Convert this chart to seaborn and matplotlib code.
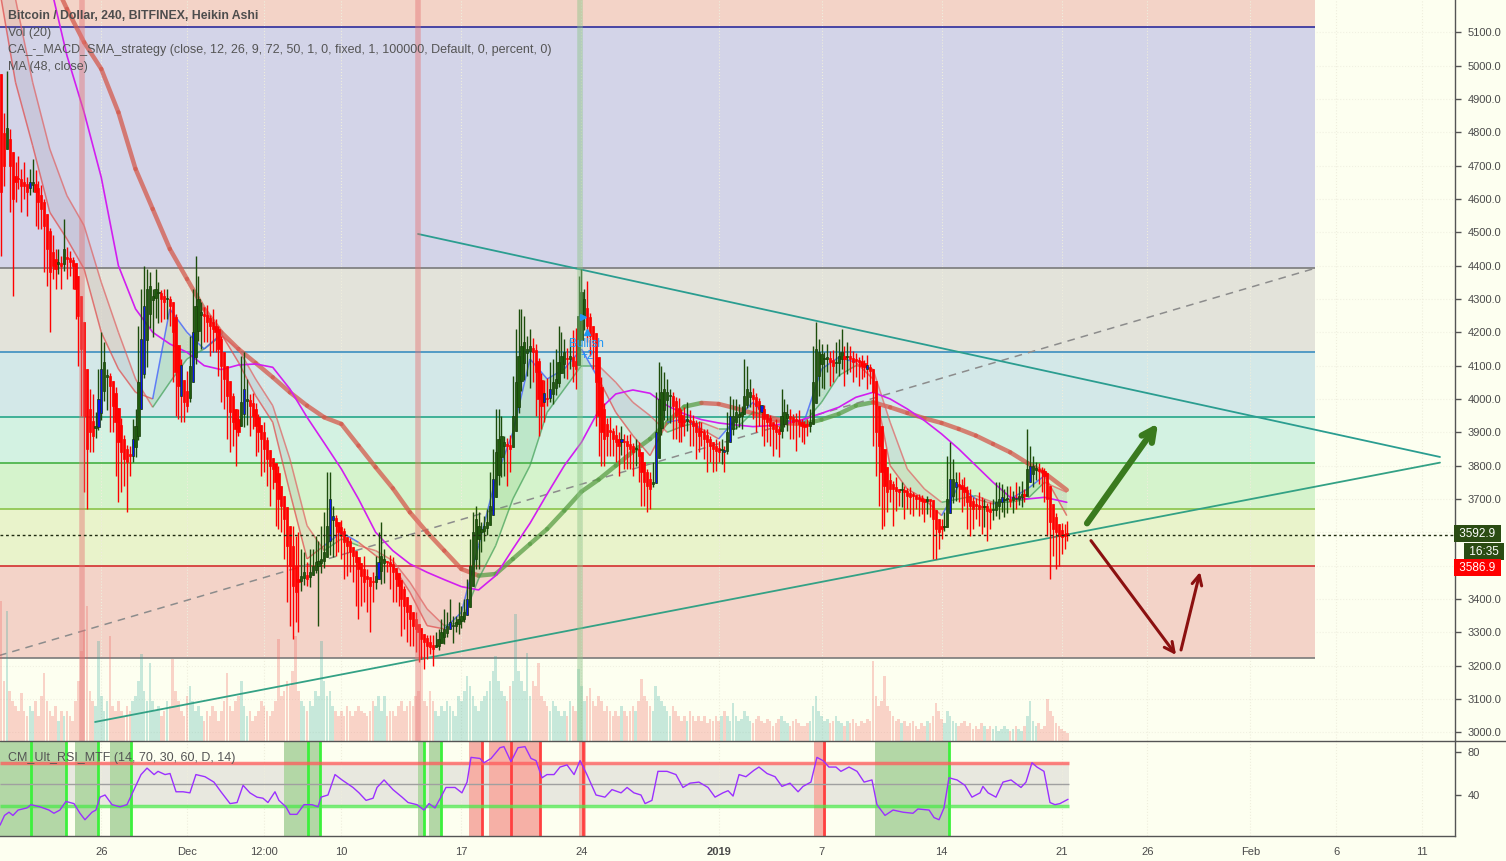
import numpy as np
import pandas as pd
import matplotlib
matplotlib.use("Agg")
import matplotlib.pyplot as plt
import matplotlib.transforms as mtransforms
from matplotlib.collections import LineCollection
from matplotlib.lines import Line2D
import seaborn as sns

# ---------------------------------------------------------------------------
# data
# x unit = days after 1 Dec 2018 00:00, bars every 4h starting 20 Nov 00:00
# ---------------------------------------------------------------------------
bar_start_day = -11
bars_per_day = 6
first_ha_open = 5050

ha_close = [
    4900, 4620, 4700, 4814, 4700, 4600,   # Nov 20
    4650, 4660, 4640, 4640, 4620, 4650,
    4650, 4620, 4590, 4570, 4520, 4450,
    4380, 4400, 4390, 4410, 4400, 4450,
    4420, 4410, 4400, 4330, 4250, 4150,
    3950, 3850, 3900, 3890, 3920, 4000,   # Nov 25
    4090, 4110, 4070, 4040, 3980, 3930,
    3870, 3840, 3820, 3810, 3830, 3880,
    3920, 4050, 4180, 4280, 4330, 4340,
    4310, 4330, 4320, 4300, 4290, 4300,
    4280, 4200, 4080, 4040, 4010, 3990,   # Nov 30
    3980, 4100, 4200, 4280, 4300, 4260,   # Dec 1
    4250, 4230, 4220, 4210, 4200, 4150,
    4100, 4060, 4010, 3960, 3930, 3910,
    3900, 3990, 4030, 4000, 3980, 3950,
    3920, 3900, 3880, 3850, 3820, 3800,
    3790, 3750, 3700, 3680, 3640, 3560,
    3500, 3440, 3420, 3450, 3470, 3480,
    3460, 3480, 3500, 3510, 3515, 3520,
    3540, 3620, 3700, 3650, 3620, 3600,
    3590, 3570, 3560, 3540, 3530, 3510,   # Dec 10
    3490, 3470, 3450, 3460, 3440, 3450,
    3470, 3510, 3530, 3520, 3510, 3500,
    3480, 3460, 3440, 3400, 3380, 3360,
    3340, 3320, 3310, 3300, 3280, 3270,
    3260, 3255, 3250, 3260, 3280, 3300,
    3310, 3320, 3330, 3320, 3330, 3340,
    3350, 3360, 3400, 3500, 3600, 3640,
    3620, 3610, 3620, 3630, 3680, 3760,
    3840, 3880, 3890, 3870, 3860, 3850,
    3950, 4050, 4130, 4160, 4170, 4150,   # Dec 20
    4160, 4140, 4080, 4000, 3980, 3990,
    4000, 4030, 4050, 4060, 4110, 4130,
    4140, 4120, 4130, 4100, 4090, 4250,
    4320, 4300, 4220, 4190, 4180, 4050,
    3950, 3900, 3880, 3890, 3900, 3880,
    3870, 3860, 3880, 3870, 3860, 3850,
    3840, 3850, 3830, 3780, 3750, 3740,
    3730, 3750, 3900, 4000, 4020, 4030,
    4020, 4010, 3980, 3950, 3930, 3920,
    3930, 3940, 3930, 3920, 3900, 3890,   # Dec 30
    3900, 3880, 3870, 3860, 3850, 3845,
    3840, 3850, 3840, 3900, 3950, 3950,   # Jan 1
    3960, 3955, 3960, 4010, 4030, 4020,
    4000, 3980, 3970, 3960, 3940, 3930,
    3920, 3910, 3900, 3895, 3950, 3960,
    3955, 3940, 3930, 3935, 3925, 3920,
    3915, 3920, 3930, 4050, 4150, 4140,
    4135, 4120, 4125, 4110, 4100, 4110,
    4130, 4140, 4120, 4130, 4120, 4110,
    4115, 4110, 4100, 4095, 4090, 4085,
    4020, 3900, 3860, 3780, 3740, 3720,   # Jan 10
    3730, 3730, 3725, 3720, 3730, 3720,
    3710, 3705, 3710, 3700, 3700, 3695,
    3690, 3700, 3695, 3640, 3610, 3600,
    3610, 3620, 3700, 3760, 3760, 3750,
    3740, 3730, 3720, 3690, 3680, 3670,
    3680, 3670, 3675, 3680, 3665, 3660,
    3670, 3690, 3700, 3705, 3700, 3700,
    3695, 3705, 3700, 3710, 3715, 3710,
    3790, 3800, 3800, 3790, 3785, 3780,
    3770, 3700, 3630, 3610, 3600, 3590,   # Jan 20
    3585, 3590, 3592.9,
]

wick_up = [
    0, 0, 60, 170, 30, 0,
    40, 70, 30, 60, 20, 40,
    70, 40, 20, 30, 10, 0,
    10, 50, 30, 40, 20, 90,
    30, 20, 10, 0, 0, 0,
    0, 0, 60, 80, 40, 90,
    110, 60, 20, 10, 0, 20,
    0, 20, 10, 10, 30, 60,
    50, 170, 150, 120, 60, 40,
    20, 60, 30, 10, 20, 30,
    10, 0, 10, 0, 20, 0,
    60, 90, 130, 150, 70, 30,
    20, 30, 10, 40, 20, 10,
    10, 0, 0, 0, 10, 0,
    30, 140, 110, 60, 20, 30,
    20, 10, 0, 30, 10, 0,
    0, 0, 20, 0, 0, 0,
    0, 60, 90, 140, 80, 60,
    40, 70, 50, 80, 60, 100,
    120, 160, 80, 30, 10, 0,
    20, 10, 0, 10, 0, 0,
    0, 0, 40, 20, 0, 30,
    60, 90, 100, 30, 0, 20,
    20, 0, 0, 0, 10, 0,
    0, 0, 20, 0, 0, 0,
    10, 20, 30, 40, 30, 40,
    60, 40, 70, 30, 20, 50,
    30, 40, 60, 80, 60, 40,
    40, 20, 30, 40, 100, 90,
    130, 90, 60, 20, 20, 30,
    120, 160, 140, 110, 80, 40,
    50, 30, 20, 10, 20, 40,
    60, 80, 70, 90, 110, 70,
    40, 30, 50, 80, 100, 120,
    70, 30, 80, 10, 0, 0,
    0, 30, 20, 20, 40, 10,
    30, 20, 40, 20, 20, 30,
    10, 30, 20, 0, 0, 10,
    20, 60, 120, 110, 80, 50,
    40, 20, 10, 10, 30, 20,
    40, 50, 30, 20, 10, 20,
    30, 10, 20, 10, 0, 20,
    20, 30, 10, 60, 60, 50,
    40, 30, 20, 110, 70, 40,
    20, 10, 10, 0, 10, 0,
    10, 0, 20, 10, 80, 40,
    30, 20, 10, 20, 30, 10,
    10, 20, 40, 110, 80, 40,
    30, 20, 40, 20, 30, 60,
    50, 70, 30, 40, 30, 20,
    20, 10, 20, 10, 30, 10,
    0, 0, 0, 0, 0, 0,
    20, 10, 30, 0, 20, 10,
    10, 20, 10, 0, 10, 10,
    0, 10, 0, 0, 0, 0,
    20, 40, 130, 110, 60, 30,
    40, 20, 30, 10, 20, 10,
    20, 40, 30, 20, 10, 20,
    30, 60, 50, 40, 30, 40,
    40, 20, 50, 30, 40, 20,
    120, 60, 30, 20, 20, 10,
    10, 0, 0, 0, 10, 0,
    20, 30, 40,
]

wick_dn = [
    100, 190, 60, 0, 140, 290,
    60, 30, 80, 40, 70, 20,
    20, 100, 80, 60, 140, 110,
    180, 40, 60, 30, 70, 20,
    60, 40, 70, 90, 150, 200,
    230, 180, 60, 50, 30, 10,
    20, 30, 100, 140, 80, 160,
    180, 120, 80, 150, 60, 20,
    30, 10, 0, 10, 80, 40,
    110, 60, 90, 70, 50, 60,
    60, 150, 130, 100, 80, 60,
    20, 10, 0, 20, 30, 100,
    80, 60, 90, 70, 60, 80,
    110, 90, 130, 120, 70, 110,
    10, 0, 40, 70, 90, 40,
    90, 60, 110, 70, 80, 120,
    60, 130, 90, 80, 120, 170,
    180, 160, 90, 150, 30, 20,
    20, 30, 0, 10, 180, 30,
    20, 0, 40, 110, 90, 60,
    70, 110, 90, 60, 80, 130,
    150, 90, 60, 100, 140, 60,
    20, 0, 40, 60, 30, 70,
    90, 70, 60, 110, 70, 90,
    80, 60, 70, 90, 60, 80,
    40, 20, 50, 0, 10, 0,
    20, 10, 0, 50, 20, 30,
    20, 10, 0, 0, 0, 30,
    90, 60, 30, 20, 0, 0,
    0, 30, 60, 90, 120, 70,
    0, 0, 20, 30, 50, 70,
    110, 90, 130, 110, 70, 60,
    20, 10, 30, 20, 10, 0,
    40, 60, 30, 50, 60, 0,
    0, 40, 50, 60, 90, 130,
    120, 100, 80, 60, 70, 50,
    60, 90, 40, 80, 70, 60,
    70, 50, 80, 100, 70, 80,
    60, 10, 0, 0, 20, 30,
    60, 80, 100, 70, 60, 50,
    40, 30, 70, 60, 80, 50,
    40, 60, 90, 50, 70, 60,
    30, 40, 60, 10, 0, 20,
    20, 30, 40, 0, 10, 30,
    60, 80, 50, 70, 80, 60,
    60, 80, 50, 70, 20, 10,
    40, 60, 50, 90, 40, 50,
    50, 30, 20, 0, 0, 60,
    70, 90, 40, 70, 50, 30,
    40, 30, 80, 50, 40, 60,
    50, 70, 40, 30, 60, 40,
    160, 130, 180, 170, 120, 60,
    40, 110, 60, 40, 50, 80,
    40, 50, 60, 30, 50, 40,
    60, 40, 50, 120, 90, 50,
    30, 10, 0, 0, 20, 40,
    50, 70, 40, 80, 90, 60,
    40, 50, 80, 60, 90, 50,
    30, 20, 40, 30, 50, 40,
    20, 40, 30, 20, 30, 20,
    0, 0, 40, 30, 40, 60,
    80, 110, 170, 80, 110, 90,
    50, 40, 20,
]

# volume, in pixels of the volume overlay
volume = [
    90, 140, 60, 130, 50, 40,
    35, 30, 48, 30, 25, 35,
    30, 40, 25, 45, 68, 40,
    30, 25, 35, 20, 30, 25,
    30, 25, 20, 40, 60, 90,
    110, 135, 50, 40, 35, 100,
    45, 30, 40, 105, 35, 30,
    40, 30, 25, 35, 30, 40,
    45, 60, 87, 50, 40, 78,
    40, 30, 35, 25, 30, 40,
    35, 82, 50, 40, 30, 25,
    45, 55, 40, 30, 35, 25,
    20, 30, 25, 35, 30, 20,
    30, 40, 68, 35, 30, 40,
    45, 60, 35, 25, 30, 20,
    25, 30, 40, 35, 30, 25,
    30, 40, 102, 45, 50, 60,
    55, 70, 105, 50, 40, 35,
    30, 40, 35, 50, 45, 100,
    60, 45, 50, 35, 30, 25,
    30, 25, 35, 30, 25, 30,
    35, 30, 28, 25, 30, 40,
    35, 45, 30, 45, 25, 30,
    30, 25, 35, 40, 30, 35,
    40, 35, 45, 50, 85, 40,
    35, 50, 40, 30, 25, 35,
    30, 40, 35, 30, 25, 45,
    40, 50, 65, 55, 45, 35,
    30, 40, 45, 50, 60, 70,
    85, 60, 50, 45, 40, 55,
    60, 127, 70, 60, 50, 88,
    45, 60, 55, 78, 45, 40,
    35, 30, 40, 35, 30, 25,
    30, 25, 40, 35, 30, 72,
    55, 40, 45, 53, 40, 35,
    45, 40, 30, 35, 30, 25,
    30, 25, 35, 30, 25, 30,
    35, 30, 40, 62, 45, 40,
    35, 30, 55, 45, 40, 35,
    30, 25, 35, 30, 25, 20,
    25, 20, 30, 25, 20, 25,
    20, 25, 18, 22, 20, 25,
    20, 25, 30, 25, 20, 38,
    25, 20, 22, 30, 25, 20,
    18, 22, 25, 20, 18, 22,
    20, 15, 18, 22, 25, 20,
    18, 15, 20, 22, 18, 15,
    15, 18, 20, 35, 45, 30,
    25, 20, 22, 18, 20, 25,
    20, 18, 15, 20, 18, 22,
    18, 15, 20, 18, 22, 20,
    80, 45, 35, 40, 65, 35,
    30, 25, 20, 22, 18, 20,
    15, 18, 20, 15, 12, 18,
    15, 20, 18, 25, 38, 30,
    22, 18, 30, 25, 20, 18,
    15, 18, 20, 15, 18, 12,
    15, 12, 18, 15, 12, 15,
    12, 15, 10, 12, 15, 12,
    10, 12, 15, 12, 10, 15,
    25, 40, 20, 15, 18, 12,
    15, 42, 30, 25, 18, 15,
    12, 10, 8,
]

# bars painted blue by the strategy
blue_bars = [11, 35, 36, 47, 50, 51, 64, 68, 86, 116, 117, 133, 158, 164, 173,
             191, 193, 218, 230, 254, 256, 267, 304, 333, 335, 351, 356, 361]

# moving averages, sampled once a day
ma_days = list(range(-11, 51)) + [51.3]
ma_slow = [5700, 5550, 5400, 5280, 5170, 5070, 4990, 4860, 4690, 4570, 4450,
           4360, 4270, 4200, 4150, 4108, 4065, 4020, 3980, 3945, 3925, 3860,
           3795, 3732, 3660, 3600, 3545, 3490, 3470, 3475, 3520, 3565, 3610,
           3665, 3722, 3758, 3800, 3842, 3880, 3930, 3977, 3988, 3985, 3972,
           3957, 3942, 3927, 3925, 3938, 3955, 3980, 3990, 3975, 3958, 3942,
           3928, 3910, 3890, 3865, 3840, 3808, 3778, 3727]
ema_fast = [5250, 4950, 4760, 4560, 4480, 4390, 4200, 4090, 4020, 4000, 4270,
            4200, 4150, 4195, 4110, 4010, 3930, 3720, 3520, 3560, 3600, 3570,
            3530, 3500, 3420, 3320, 3310, 3360, 3560, 3760, 3900, 4120, 4060,
            4090, 4150, 4060, 3960, 3890, 3830, 3930, 3940, 3910, 3880, 3940,
            3990, 3935, 3935, 3935, 4090, 4125, 4110, 4060, 3800, 3730, 3700,
            3650, 3740, 3700, 3685, 3700, 3730, 3770, 3650]
ema_slow = [5450, 5200, 4950, 4750, 4610, 4520, 4350, 4200, 4060, 3975, 4050,
            4120, 4150, 4190, 4150, 4060, 3980, 3820, 3620, 3545, 3580, 3560,
            3545, 3515, 3450, 3370, 3320, 3330, 3460, 3560, 3700, 3800, 3960,
            4030, 4100, 4100, 4050, 3990, 3950, 3900, 3920, 3930, 3910, 3910,
            3960, 3950, 3935, 3930, 3990, 4070, 4100, 4090, 3930, 3790, 3730,
            3690, 3700, 3710, 3690, 3690, 3700, 3750, 3720]
ma48 = [5800, 5600, 5420, 5250, 5030, 4860, 4665, 4400, 4270, 4200, 4165,
        4140, 4100, 4088, 4102, 4105, 4095, 4030, 3945, 3868, 3790, 3700,
        3600, 3545, 3505, 3480, 3458, 3437, 3427, 3470, 3550, 3627, 3715,
        3800, 3870, 3965, 4015, 4027, 4017, 3980, 3955, 3938, 3928, 3922,
        3917, 3920, 3927, 3940, 3957, 3975, 4005, 4020, 4000, 3970, 3935,
        3895, 3850, 3800, 3750, 3705, 3700, 3705, 3690]
ma_slow_long_spans = [(17.5, 30.1), (35.8, 39.8)]

# CM_Ult_RSI_MTF
rsi_days = [-10.90, -10.64, -10.38, -10.15, -9.85, -9.33, -9.10, -8.57, -8.05, -7.76,
            -7.41, -7.06, -6.59, -6.24, -5.95, -5.54, -5.31, -5.07, -4.78, -4.37,
            -3.91, -3.50, -3.09, -2.68, -2.33, -1.92, -1.69, -1.28, -0.99, -0.64,
            -0.23, 0.17, 0.52, 1.05, 1.57, 1.98, 2.51, 2.92, 3.27, 3.67,
            4.08, 4.43, 4.72, 5.13, 5.36, 5.77, 6.01, 6.41, 6.82, 7.29,
            7.64, 7.81, 8.22, 8.63, 9.04, 9.68, 10.03, 10.44, 10.85, 11.08,
            11.49, 12.01, 12.54, 12.89, 13.41, 13.82, 14.11, 14.46, 14.87, 15.10,
            15.63, 16.03, 16.33, 16.56, 17.08, 17.32, 17.73, 18.25, 18.48, 18.89,
            19.30, 19.71, 20.06, 20.35, 20.70, 20.99, 21.40, 21.75, 22.16, 22.57,
            22.92, 23.32, 23.85, 24.37, 24.78, 25.31, 25.66, 26.06, 26.47, 26.71,
            27.11, 27.46, 27.99, 28.51, 28.92, 29.33, 29.85, 30.38, 30.79, 31.25,
            31.55, 31.84, 32.19, 32.59, 33.06, 33.35, 33.82, 34.29, 34.69, 35.16,
            35.63, 35.92, 36.38, 36.73, 37.08, 37.43, 37.84, 38.13, 38.60, 39.07,
            39.48, 39.94, 40.23, 40.70, 41.17, 41.75, 42.33, 42.62, 43.27, 43.56,
            43.85, 44.14, 44.43, 44.90, 45.36, 45.77, 46.24, 46.41, 46.71, 47.17,
            47.58, 48.05, 48.63, 48.92, 49.27, 49.56, 49.97, 50.32, 50.61, 50.90,
            51.37]
rsi_vals = [12, 21, 24, 21, 26, 28, 31, 29, 26, 23,
            26, 34, 32, 23, 17, 24, 26, 38, 40, 31,
            29, 31, 45, 59, 65, 59, 62, 59, 60, 43,
            43, 42, 59, 57, 52, 43, 32, 33, 49, 42,
            38, 37, 33, 43, 35, 29, 22, 22, 31, 31,
            29, 38, 40, 59, 54, 47, 42, 35, 37, 47,
            54, 45, 38, 33, 31, 26, 32, 28, 40, 47,
            47, 42, 52, 75, 74, 70, 74, 84, 85, 71,
            84, 85, 74, 72, 56, 59, 59, 66, 68, 59,
            72, 59, 40, 38, 45, 42, 47, 42, 40, 32,
            35, 62, 62, 59, 47, 51, 52, 47, 38, 42,
            44, 39, 59, 57, 63, 66, 60, 57, 48, 51,
            43, 48, 52, 75, 72, 66, 66, 62, 66, 62,
            52, 54, 31, 21, 26, 24, 23, 27, 26, 19,
            17, 28, 56, 54, 49, 38, 42, 48, 42, 38,
            52, 54, 47, 52, 70, 66, 62, 33, 31, 32,
            36]
rsi_os_spans = [(-11.2, -7.06), (-6.53, -5.19), (-4.49, -3.27), (5.66, 7.76),
                (13.47, 13.82), (14.11, 14.81), (40.12, 44.43)]
rsi_ob_spans = [(16.44, 17.26), (17.61, 20.58), (22.86, 23.27), (36.56, 37.26)]
rsi_os_marks = [-9.1, -7.06, -5.19, -3.27, 7.06, 7.76, 13.82, 14.81, 44.43]
rsi_ob_marks = [17.2, 18.9, 20.58, 23.09, 37.14]

# strategy signal bars
signal_days = [-6.12, 13.47, 22.92]
signal_colors = ['#e57373', '#e57373', '#8cc488']

# fibonacci retracement
fib_p1 = (-11.5, 3222)
fib_p2 = (65.77, 4392)
fib_levels = [0, 0.236, 0.382, 0.5, 0.618, 0.786, 1, 1.618, 2.618]
fib_line_colors = ['#7a7a7a', '#d32f2f', '#8bc34a', '#43b043', '#26a68a',
                   '#3b8ec0', '#7a7a7a', '#2d2d9c', '#d32f2f']
fib_fill_colors = ['#f3d3c8', '#e9f3cb', '#d5f3cc', '#d3f2e2', '#d3e8e8',
                   '#e3e3da', '#d3d4e8', '#f3d3c7']

# hand drawn lines
resistance = [(13.47, 4495), (73.06, 3826)]
support = [(-5.36, 3031), (73.06, 3809)]
up_arrow = [(52.48, 3627), (56.62, 3927)]
down_arrow = [(52.71, 3575), (57.67, 3232)]
rebound_arrow = [(57.96, 3247), (59.07, 3481)]

last_price = 3592.9
bid_price = 3586.9
bar_countdown = "16:35"

price_ticks = list(range(3000, 5101, 100))
hidden_price_ticks = [3500, 3600]          # covered by the price tags
date_ticks = [-5, 0, 4.5, 9, 16, 23, 31, 37, 44, 51, 56, 62, 67, 72]
date_labels = ['26', 'Dec', '12:00', '10', '17', '24', '2019', '7', '14', '21',
               '26', 'Feb', '6', '11']

# ---------------------------------------------------------------------------
sns.set_style("white")
plt.rcParams['font.family'] = ['Liberation Sans', 'DejaVu Sans']

BG = '#fdfff0'
TXT = '#4a4a4a'
W, H = 1506, 861
fig = plt.figure(figsize=(W / 100, H / 100), dpi=100, facecolor=BG)
ax = fig.add_axes([0, 1 - 741 / H, 1455 / W, 741 / H], facecolor=BG)
ax_rsi = fig.add_axes([0, 1 - 836 / H, 1455 / W, 95 / H], facecolor=BG)

xlim = (-187 / 17.15, (1455 - 187) / 17.15)
ax.set_xlim(*xlim)
ax.set_ylim(2973.9, 5196.9)
ax_rsi.set_xlim(*xlim)
ax_rsi.set_ylim(1.86, 90.23)

# faint grid
for d in date_ticks:
    ax.axvline(d, color='#efeedd', lw=0.8, ls=':', zorder=0.5)
    ax_rsi.axvline(d, color='#efeedd', lw=0.8, ls=':', zorder=0.5)
for p in price_ticks:
    ax.axhline(p, color='#f1f1e2', lw=0.8, ls=':', zorder=0.1)

# fibonacci bands
f_lo, f_hi = fib_p1[1], fib_p2[1]
fib_prices = [f_lo + (f_hi - f_lo) * f for f in fib_levels]
for k in range(len(fib_prices) - 1):
    ax.fill_between([fib_p1[0], fib_p2[0]], fib_prices[k], fib_prices[k + 1],
                    color=fib_fill_colors[k], lw=0, zorder=0.2)
for p, col in zip(fib_prices, fib_line_colors):
    ax.hlines(p, fib_p1[0], fib_p2[0], color=col, lw=1.2, zorder=0.6)
ax.plot([fib_p1[0], fib_p2[0]], [f_lo, f_hi], ls=(0, (5, 4)), color='#8c8c8c',
        lw=1.1, zorder=1)

# heikin ashi candles
n = len(ha_close)
t = bar_start_day + np.arange(n) / bars_per_day
c = np.array(ha_close, float)
o = np.empty(n)
o[0] = first_ha_open
for i in range(1, n):
    o[i] = (o[i - 1] + c[i - 1]) / 2
up = c >= o
top = np.maximum(o, c)
bot = np.minimum(o, c)
hi = top + np.array(wick_up, float)
lo = bot - np.array(wick_dn, float)

# volume overlay (own scale at the bottom of the price pane)
vol_tr = mtransforms.blended_transform_factory(
    ax.transData, mtransforms.Affine2D().scale(1, 1 / 741) + ax.transAxes)
vol_cols = np.where(up, '#26a69a', '#ef5350')
ax.bar(t, volume, width=0.15, bottom=0, color=vol_cols, alpha=0.25, lw=0,
       transform=vol_tr, zorder=1.5)

# moving averages
md = np.array(ma_days, float)


def segments(y):
    y = np.asarray(y, float)
    return np.stack([np.column_stack([md[:-1], y[:-1]]),
                     np.column_stack([md[1:], y[1:]])], axis=1)


mid = (md[:-1] + md[1:]) / 2
fast = np.array(ema_fast, float)
slow = np.array(ema_slow, float)
trend_up = (fast[:-1] + fast[1:]) >= (slow[:-1] + slow[1:])

ax.fill_between(md, fast, slow, where=fast >= slow, interpolate=True,
                color='#5cb85c', alpha=0.18, lw=0, zorder=2.2)
ax.fill_between(md, fast, slow, where=fast < slow, interpolate=True,
                color='#7a5a6a', alpha=0.10, lw=0, zorder=2.2)

long_seg = [any(a <= m <= b for a, b in ma_slow_long_spans) for m in mid]
ax.add_collection(LineCollection(
    segments(ma_slow), colors=['#5a9e46' if g else '#d45a4c' for g in long_seg],
    linewidths=3.2, alpha=0.75, zorder=2.6, capstyle='round'))
ax.add_collection(LineCollection(
    segments(ema_slow), colors=['#3f9f55' if g else '#e06060' for g in trend_up],
    linewidths=1.1, alpha=0.7, zorder=2.7))
ax.add_collection(LineCollection(
    segments(ema_fast), colors=['#3b5bff' if g else '#e05050' for g in trend_up],
    linewidths=1.1, alpha=0.75, zorder=2.7))
sns.lineplot(x=ma_days, y=ma48, color='#d21ef0', lw=1.2, ax=ax, zorder=2.8,
             legend=False)

# candles
wick_cols = np.where(up, '#1d4d0c', '#ff0000')
body_cols = np.where(up, '#1f5a0e', '#ff0000').astype(object)
edge_cols = np.where(up, '#173f08', '#ff0000').astype(object)
for b in blue_bars:
    body_cols[b] = '#0a14f0'
    edge_cols[b] = '#173f08'
ax.vlines(t, lo, hi, colors=wick_cols, lw=1, zorder=3)
ax.bar(t, np.maximum(top - bot, 4), bottom=bot, width=0.13, color=list(body_cols),
       edgecolor=list(edge_cols), lw=0.5, zorder=3.1)

# strategy signals
for d, col in zip(signal_days, signal_colors):
    ax.axvline(d, color=col, lw=4, alpha=0.45, zorder=4)

# trend lines
ax.plot(*zip(*resistance), color='#2a9d90', lw=1.3, zorder=2.4)
ax.plot(*zip(*support), color='#33a185', lw=1.3, zorder=2.4)

# last price
ax.axhline(last_price, color='#1e2a10', lw=1, ls=(0, (2, 2)), zorder=5)

# arrows
ax.annotate('', xy=up_arrow[1], xytext=up_arrow[0], zorder=6,
            arrowprops=dict(arrowstyle='->,head_length=0.9,head_width=0.45',
                            color='#3a7a1e', lw=4.5, shrinkA=0, shrinkB=0))
for seg in (down_arrow, rebound_arrow):
    ax.annotate('', xy=seg[1], xytext=seg[0], zorder=6,
                arrowprops=dict(arrowstyle='->,head_length=0.7,head_width=0.35',
                                color='#8b1010', lw=2.2, shrinkA=0, shrinkB=0))

# strategy label
ax.text(23.27, 4165, 'Bullish', color='#2196f3', fontsize=8.5, ha='center',
        va='center', zorder=6)
ax.text(23.33, 4128, '+2', color='#2196f3', fontsize=8.5, ha='center',
        va='center', zorder=6)
ax.plot([23.1], [4246], marker='>', color='#2196f3', ms=4, zorder=6)
ax.plot([23.33], [4201], marker='^', color='#2196f3', ms=5, zorder=6)

# price axis
ax.yaxis.tick_right()
ax.set_yticks(price_ticks)
ax.set_yticklabels(['' if p in hidden_price_ticks else f'{p:.1f}' for p in price_ticks])
ax.set_xticks([])
ax.tick_params(axis='y', length=4, width=1, color='#555555', labelsize=8,
               labelcolor=TXT, pad=5)
for s in ('top', 'left', 'bottom'):
    ax.spines[s].set_visible(False)
ax.spines['right'].set_color('#555555')
ax.spines['right'].set_linewidth(1)

box_kw = dict(xycoords=('axes fraction', 'data'), textcoords='offset pixels',
              ha='left', va='center', fontsize=8.5, color='white', zorder=10,
              annotation_clip=False)
ax.annotate(f' {last_price:.1f} ', xy=(1, last_price), xytext=(1, 1),
            bbox=dict(boxstyle='square,pad=0.2', fc='#2b4c13', ec='none'), **box_kw)
ax.annotate(f' {bar_countdown} ', xy=(1, last_price), xytext=(11, -17),
            bbox=dict(boxstyle='square,pad=0.2', fc='#2b4c13', ec='none'), **box_kw)
ax.annotate(f' {bid_price:.1f} ', xy=(1, bid_price), xytext=(1, -31),
            bbox=dict(boxstyle='square,pad=0.2', fc='#ff0000', ec='none'), **box_kw)

# RSI pane
rsi_end = 51.4
ax_rsi.fill_between([xlim[0], rsi_end], 30, 70, color='#e8e8df', lw=0, zorder=0.3)
for a, b in rsi_os_spans:
    ax_rsi.axvspan(a, b, color='#b3d7a6', lw=0, zorder=0.6)
for a, b in rsi_ob_spans:
    ax_rsi.axvspan(a, b, color='#f6b0a6', lw=0, zorder=0.6)
for d in rsi_os_marks:
    ax_rsi.axvline(d, color='#3cf03c', lw=2, zorder=0.7)
for d in rsi_ob_marks:
    ax_rsi.axvline(d, color='#ff4040', lw=2, zorder=0.7)
ax_rsi.hlines(70, xlim[0], rsi_end, color='#ff5a5a', lw=2.5, alpha=0.75, zorder=1)
ax_rsi.hlines(30, xlim[0], rsi_end, color='#4ce84c', lw=2.5, alpha=0.75, zorder=1)
ax_rsi.hlines(50, xlim[0], rsi_end, color='#a0a0a0', lw=1, zorder=1)
sns.lineplot(x=rsi_days, y=rsi_vals, color='#9b30ff', lw=1, ax=ax_rsi, zorder=3,
             legend=False)
ax_rsi.set_xlabel('')
ax_rsi.set_ylabel('')
ax.set_xlabel('')
ax.set_ylabel('')

ax_rsi.yaxis.tick_right()
ax_rsi.set_yticks([40, 80])
ax_rsi.set_yticklabels(['40', '80'])
ax_rsi.set_xticks(date_ticks)
ax_rsi.set_xticklabels(date_labels)
for lab in ax_rsi.get_xticklabels():
    if lab.get_text() == '2019':
        lab.set_fontweight('bold')
ax_rsi.tick_params(axis='both', length=4, width=1, color='#555555', labelsize=8,
                   labelcolor=TXT, pad=5)
ax_rsi.tick_params(axis='x', pad=4)
for s in ('top', 'left'):
    ax_rsi.spines[s].set_visible(False)
for s in ('right', 'bottom'):
    ax_rsi.spines[s].set_color('#555555')
    ax_rsi.spines[s].set_linewidth(1)

# pane separator
fig.add_artist(Line2D([0, 1], [1 - 741 / H] * 2, transform=fig.transFigure,
                      color='#555555', lw=1))

# legends
fig.text(8 / W, 1 - 16 / H, 'Bitcoin / Dollar, 240, BITFINEX, Heikin Ashi',
         fontsize=8.8, fontweight='bold', color='#4d4d4d', va='center')
fig.text(8 / W, 1 - 33 / H, 'Vol (20)', fontsize=9, color='#555555', va='center')
fig.text(8 / W, 1 - 50 / H,
         'CA_-_MACD_SMA_strategy (close, 12, 26, 9, 72, 50, 1, 0, fixed, 1, 100000, '
         'Default, 0, percent, 0)', fontsize=9, color='#555555', va='center')
fig.text(8 / W, 1 - 67 / H, 'MA (48, close)', fontsize=9, color='#555555',
         va='center')
fig.text(8 / W, 1 - 758 / H, 'CM_Ult_RSI_MTF (14, 70, 30, 60, D, 14)', fontsize=9,
         color='#555555', va='center', zorder=10)

fig.savefig('out.png', dpi=100, facecolor=BG)
